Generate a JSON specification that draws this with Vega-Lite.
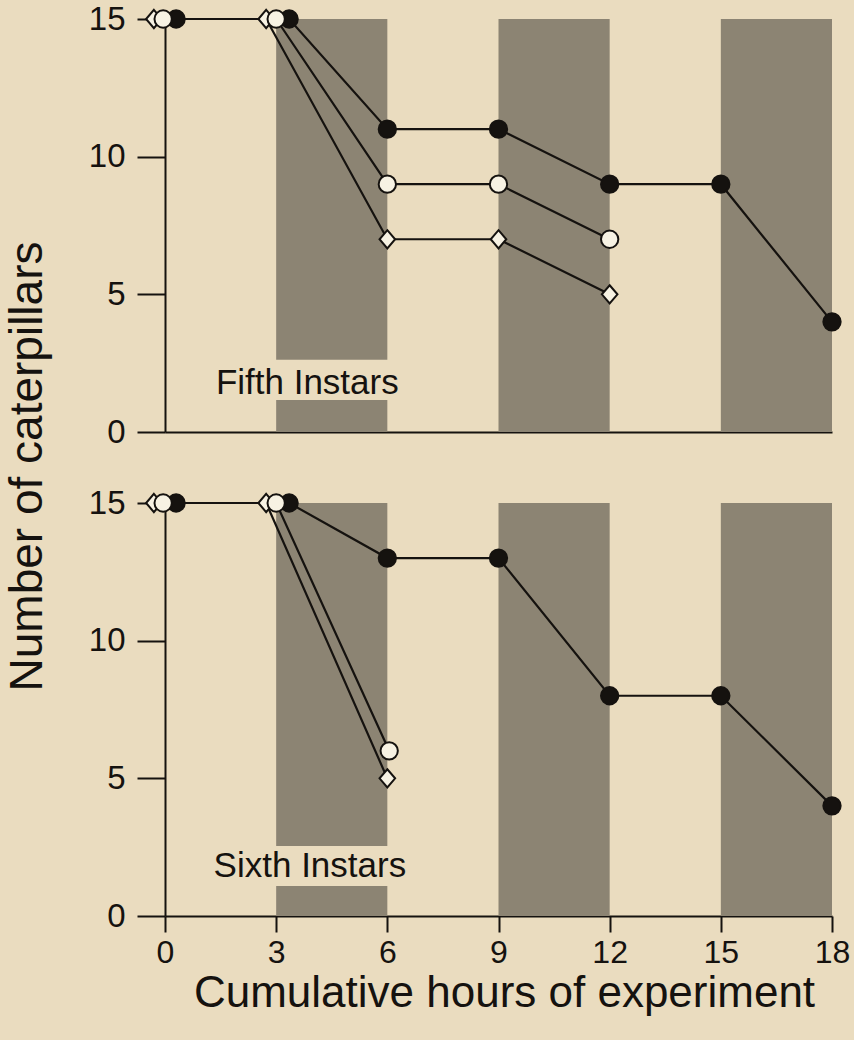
{
  "$schema": "https://vega.github.io/schema/vega-lite/v6.json",
  "background": "#eadcbf",
  "padding": {"left": 4, "top": 3, "right": 18, "bottom": 30},
  "bounds": "flush",
  "spacing": 71,
  "datasets": {
    "points": [
      {"panel": "fifth", "series": "filled", "hour": 0.3, "count": 15},
      {"panel": "fifth", "series": "filled", "hour": 3.35, "count": 15},
      {"panel": "fifth", "series": "filled", "hour": 6, "count": 11},
      {"panel": "fifth", "series": "filled", "hour": 9, "count": 11},
      {"panel": "fifth", "series": "filled", "hour": 12, "count": 9},
      {"panel": "fifth", "series": "filled", "hour": 15, "count": 9},
      {"panel": "fifth", "series": "filled", "hour": 18, "count": 4},
      {"panel": "fifth", "series": "diamond", "hour": -0.3, "count": 15},
      {"panel": "fifth", "series": "diamond", "hour": 2.73, "count": 15},
      {"panel": "fifth", "series": "diamond", "hour": 6, "count": 7},
      {"panel": "fifth", "series": "diamond", "hour": 9, "count": 7},
      {"panel": "fifth", "series": "diamond", "hour": 12, "count": 5},
      {"panel": "fifth", "series": "open", "hour": -0.05, "count": 15},
      {"panel": "fifth", "series": "open", "hour": 3.0, "count": 15},
      {"panel": "fifth", "series": "open", "hour": 6, "count": 9},
      {"panel": "fifth", "series": "open", "hour": 9, "count": 9},
      {"panel": "fifth", "series": "open", "hour": 12, "count": 7},
      {"panel": "sixth", "series": "filled", "hour": 0.3, "count": 15},
      {"panel": "sixth", "series": "filled", "hour": 3.35, "count": 15},
      {"panel": "sixth", "series": "filled", "hour": 6, "count": 13},
      {"panel": "sixth", "series": "filled", "hour": 9, "count": 13},
      {"panel": "sixth", "series": "filled", "hour": 12, "count": 8},
      {"panel": "sixth", "series": "filled", "hour": 15, "count": 8},
      {"panel": "sixth", "series": "filled", "hour": 18, "count": 4},
      {"panel": "sixth", "series": "diamond", "hour": -0.3, "count": 15},
      {"panel": "sixth", "series": "diamond", "hour": 2.73, "count": 15},
      {"panel": "sixth", "series": "diamond", "hour": 6, "count": 5},
      {"panel": "sixth", "series": "open", "hour": -0.05, "count": 15},
      {"panel": "sixth", "series": "open", "hour": 3.0, "count": 15},
      {"panel": "sixth", "series": "open", "hour": 6.05, "count": 6}
    ],
    "bands": [
      {"panel": "fifth", "hour": 3, "hour_end": 6, "count": 2.62, "count_end": 15},
      {"panel": "fifth", "hour": 3, "hour_end": 6, "count": 0, "count_end": 1.16},
      {"panel": "fifth", "hour": 9, "hour_end": 12, "count": 0, "count_end": 15},
      {"panel": "fifth", "hour": 15, "hour_end": 18, "count": 0, "count_end": 15},
      {"panel": "sixth", "hour": 3, "hour_end": 6, "count": 2.54, "count_end": 15},
      {"panel": "sixth", "hour": 3, "hour_end": 6, "count": 0, "count_end": 1.09},
      {"panel": "sixth", "hour": 9, "hour_end": 12, "count": 0, "count_end": 15},
      {"panel": "sixth", "hour": 15, "hour_end": 18, "count": 0, "count_end": 15}
    ],
    "labels": [
      {"panel": "fifth", "hour": 3.84, "count": 1.38, "text": "Fifth Instars"},
      {"panel": "sixth", "hour": 3.91, "count": 1.41, "text": "Sixth Instars"}
    ]
  },
  "vconcat": [
    {
      "width": 667,
      "height": 413,
      "encoding": {
        "x": {"field": "hour", "type": "quantitative", "scale": {"domain": [0, 18], "nice": false},
              "axis": {"labels": false, "ticks": false, "title": null, "values": [0, 3, 6, 9, 12, 15, 18]}},
        "y": {"field": "count", "type": "quantitative", "scale": {"domain": [0, 15], "nice": false},
              "axis": {"values": [0, 5, 10, 15], "tickSize": 28, "labelFontSize": 33, "labelPadding": 12, "labelFlush": false,
                       "title": "Number of caterpillars", "titleFontSize": 46, "titleX": -124, "titleY": 447,
                       "titleAngle": -90, "titleBaseline": "alphabetic", "titleAlign": "center"}}
      },
      "layer": [
        {
          "data": {"name": "bands"},
          "transform": [{"filter": "datum.panel === 'fifth'"}],
          "mark": {"type": "rect", "fill": "#8c8473"},
          "encoding": {"x2": {"field": "hour_end"}, "y2": {"field": "count_end"}}
        },
        {
          "data": {"name": "points"},
          "transform": [{"filter": "datum.panel === 'fifth'"}],
          "mark": {"type": "line", "stroke": "#15120f", "strokeWidth": 2.2},
          "encoding": {"detail": {"field": "series"}}
        },
        {
          "data": {"name": "points"},
          "transform": [{"filter": "datum.panel === 'fifth'"}],
          "mark": {"type": "point", "stroke": "#15120f", "strokeWidth": 2, "size": 300, "opacity": 1},
          "encoding": {
            "shape": {"field": "series", "scale": {"domain": ["filled", "open", "diamond"], "range": ["circle", "circle", "M0,-1.05L0.9,0L0,1.05L-0.9,0Z"]}, "legend": null},
            "fill": {"field": "series", "scale": {"domain": ["filled", "open", "diamond"], "range": ["#15120f", "#f7f2e3", "#f7f2e3"]}, "legend": null}
          }
        },
        {
          "data": {"name": "labels"},
          "transform": [{"filter": "datum.panel === 'fifth'"}],
          "mark": {"type": "text", "font": "Liberation Sans", "fontSize": 35, "align": "center", "baseline": "alphabetic", "color": "#15120f"},
          "encoding": {"text": {"field": "text"}}
        }
      ]
    },
    {
      "width": 667,
      "height": 413,
      "encoding": {
        "x": {"field": "hour", "type": "quantitative", "scale": {"domain": [0, 18], "nice": false},
              "axis": {"values": [0, 3, 6, 9, 12, 15, 18], "tickSize": 16, "labelFontSize": 32, "labelPadding": 5, "labelFlush": false,
                       "title": "Cumulative hours of experiment", "titleFontSize": 44, "titleX": 339, "titleY": 90,
                       "titleBaseline": "alphabetic", "titleAlign": "center"}},
        "y": {"field": "count", "type": "quantitative", "scale": {"domain": [0, 15], "nice": false},
              "axis": {"values": [0, 5, 10, 15], "tickSize": 28, "labelFontSize": 33, "labelPadding": 12, "labelFlush": false, "title": null}}
      },
      "layer": [
        {
          "data": {"name": "bands"},
          "transform": [{"filter": "datum.panel === 'sixth'"}],
          "mark": {"type": "rect", "fill": "#8c8473"},
          "encoding": {"x2": {"field": "hour_end"}, "y2": {"field": "count_end"}}
        },
        {
          "data": {"name": "points"},
          "transform": [{"filter": "datum.panel === 'sixth'"}],
          "mark": {"type": "line", "stroke": "#15120f", "strokeWidth": 2.2},
          "encoding": {"detail": {"field": "series"}}
        },
        {
          "data": {"name": "points"},
          "transform": [{"filter": "datum.panel === 'sixth'"}],
          "mark": {"type": "point", "stroke": "#15120f", "strokeWidth": 2, "size": 300, "opacity": 1},
          "encoding": {
            "shape": {"field": "series", "scale": {"domain": ["filled", "open", "diamond"], "range": ["circle", "circle", "M0,-1.05L0.9,0L0,1.05L-0.9,0Z"]}, "legend": null},
            "fill": {"field": "series", "scale": {"domain": ["filled", "open", "diamond"], "range": ["#15120f", "#f7f2e3", "#f7f2e3"]}, "legend": null}
          }
        },
        {
          "data": {"name": "labels"},
          "transform": [{"filter": "datum.panel === 'sixth'"}],
          "mark": {"type": "text", "font": "Liberation Sans", "fontSize": 35, "align": "center", "baseline": "alphabetic", "color": "#15120f"},
          "encoding": {"text": {"field": "text"}}
        }
      ]
    }
  ],
  "config": {
    "view": {"stroke": null},
    "font": "Liberation Sans",
    "axis": {
      "grid": false,
      "domainColor": "#15120f", "tickColor": "#15120f", "labelColor": "#15120f", "titleColor": "#15120f",
      "domainWidth": 2, "tickWidth": 2,
      "labelFont": "Liberation Sans", "titleFont": "Liberation Sans", "titleFontWeight": "normal"
    }
  }
}
